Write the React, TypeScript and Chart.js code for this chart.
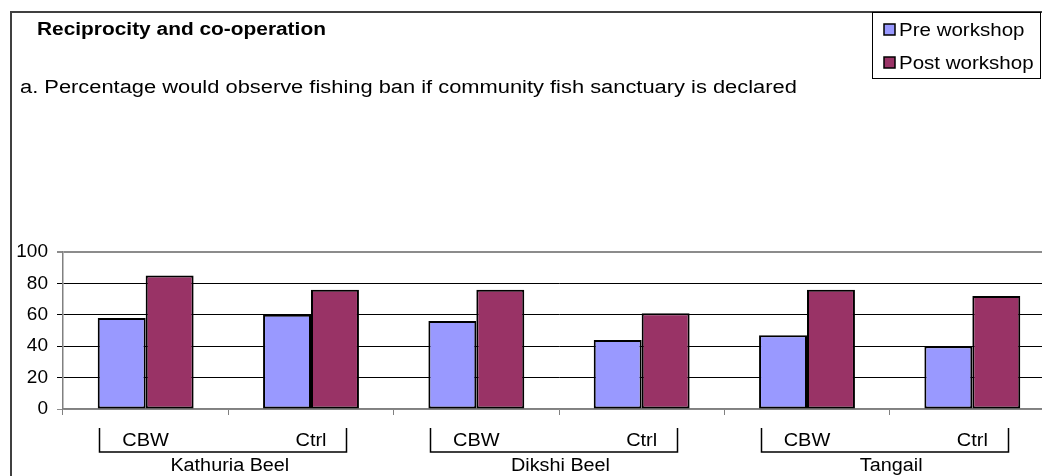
import React, { useEffect, useRef } from "react";
import { Chart, registerables } from "chart.js";

Chart.register(...registerables);

const chartTitle = "Reciprocity and co-operation";
const chartSubtitle = "a. Percentage would observe fishing ban if community fish sanctuary is declared";
const subCategories = ["CBW", "Ctrl", "CBW", "Ctrl", "CBW", "Ctrl"];
const groups = ["Kathuria Beel", "Dikshi Beel", "Tangail"];
const seriesNames = ["Pre workshop", "Post workshop"];
const preWorkshop = [58, 60, 56, 44, 47, 40];
const postWorkshop = [85, 76, 76, 61, 76, 72];
const seriesColors = ["#9999FF", "#993366"];

const FONT = "'Liberation Sans', Arial, sans-serif";

function drawText(ctx: CanvasRenderingContext2D, text: string, x: number, y: number, align: "left" | "center", font: string, sx: number) {
  ctx.save();
  ctx.font = font;
  ctx.textBaseline = "alphabetic";
  ctx.textAlign = "left";
  const w = ctx.measureText(text).width * sx;
  const left = align === "center" ? x - w / 2 : x;
  ctx.translate(left, y);
  ctx.scale(sx, 1);
  ctx.fillStyle = "#000";
  ctx.fillText(text, 0, 0);
  ctx.restore();
}

const decorPlugin = {
  id: "decor",
  afterDraw(chart: any) {
    const ctx: CanvasRenderingContext2D = chart.ctx;
    const xs = chart.scales.x;
    ctx.save();
    // outer border
    ctx.strokeStyle = "#404040";
    ctx.lineWidth = 2;
    ctx.beginPath();
    ctx.moveTo(11, 600);
    ctx.lineTo(11, 12);
    ctx.lineTo(chart.width + 10, 12);
    ctx.stroke();

    // titles
    drawText(ctx, chartTitle, 37, 35, "left", `bold 18px ${FONT}`, 1.16);
    drawText(ctx, chartSubtitle, 20, 93, "left", `18px ${FONT}`, 1.215);

    // legend
    ctx.fillStyle = "#fff";
    ctx.fillRect(872, 12, 169, 66);
    ctx.strokeStyle = "#000";
    ctx.lineWidth = 1;
    ctx.strokeRect(872.5, 12.5, 168, 66);
    chart.data.datasets.forEach((ds: any, i: number) => {
      const y = 24 + i * 33;
      ctx.fillStyle = ds.backgroundColor;
      ctx.fillRect(884, y, 11, 11);
      ctx.strokeStyle = "#000";
      ctx.lineWidth = 1.5;
      ctx.strokeRect(884, y, 11, 11);
      drawText(ctx, ds.label, 899, y + 11.5, "left", `18px ${FONT}`, 1.14);
    });

    // sub-category labels
    const labels = chart.data.labels as string[];
    labels.forEach((lab, i) => {
      drawText(ctx, lab, xs.getPixelForValue(i), 446, "center", `18px ${FONT}`, 1.11);
    });
    // group brackets + labels
    const W = xs.getPixelForValue(1) - xs.getPixelForValue(0);
    groups.forEach((g, gi) => {
      const c = (xs.getPixelForValue(gi * 2) + xs.getPixelForValue(gi * 2 + 1)) / 2;
      const l = Math.round(c - 0.78 * W) + 0.5;
      const r = Math.round(c + 0.713 * W) + 0.5;
      ctx.strokeStyle = "#000";
      ctx.lineWidth = 1.5;
      ctx.beginPath();
      ctx.moveTo(l, 428);
      ctx.lineTo(l, 452);
      ctx.lineTo(r, 452);
      ctx.lineTo(r, 428);
      ctx.stroke();
      drawText(ctx, g, c + 1.5, 471, "center", `18px ${FONT}`, 1.1);
    });
    ctx.restore();
  },
};

export default function App() {
  const ref = useRef<HTMLCanvasElement | null>(null);
  useEffect(() => {
    if (!ref.current) return;
    const chart = new Chart(ref.current, {
      type: "bar",
      data: {
        labels: subCategories,
        datasets: [
          { label: seriesNames[0], data: preWorkshop, backgroundColor: seriesColors[0], borderColor: "#000", borderWidth: 2, borderSkipped: false },
          { label: seriesNames[1], data: postWorkshop, backgroundColor: seriesColors[1], borderColor: "#000", borderWidth: 2, borderSkipped: false },
        ],
      },
      options: {
        responsive: false,
        animation: false,
        devicePixelRatio: 1,
        layout: { padding: { left: 10, top: 252, right: 25, bottom: 0 } },
        datasets: { bar: { categoryPercentage: 0.58, barPercentage: 1 } },
        plugins: { legend: { display: false }, tooltip: { enabled: false }, title: { display: false } },
        scales: {
          x: {
            offset: true,
            grid: { display: true, drawOnChartArea: false, drawTicks: true, tickLength: 6, offset: true, color: "#808080" },
            border: { color: "#808080", width: 1.5 },
            ticks: { display: false },
            afterFit: (s: any) => { s.height = 67; },
          },
          y: {
            min: 0,
            max: 100,
            ticks: { stepSize: 20, color: "#000", font: { family: FONT, size: 19 }, padding: 9 },
            grid: {
              tickLength: 6,
              color: (c: any) => (c.tick && (c.tick.value === 100 || c.tick.value === 0) ? "#8c8c8c" : "#000"),
              lineWidth: (c: any) => (c.tick && c.tick.value === 100 ? 2 : 1),
            },
            border: { color: "#808080", width: 1.5 },
            afterFit: (s: any) => { s.width = 53; },
          },
        },
      },
      plugins: [decorPlugin],
    });
    return () => chart.destroy();
  }, []);
  return (
    <div style={{ position: "fixed", left: 0, top: 0, width: 1042, height: 476, overflow: "hidden", background: "#fff" }}>
      <canvas ref={ref} width={1080} height={476} style={{ display: "block", width: 1080, height: 476 }} />
    </div>
  );
}
